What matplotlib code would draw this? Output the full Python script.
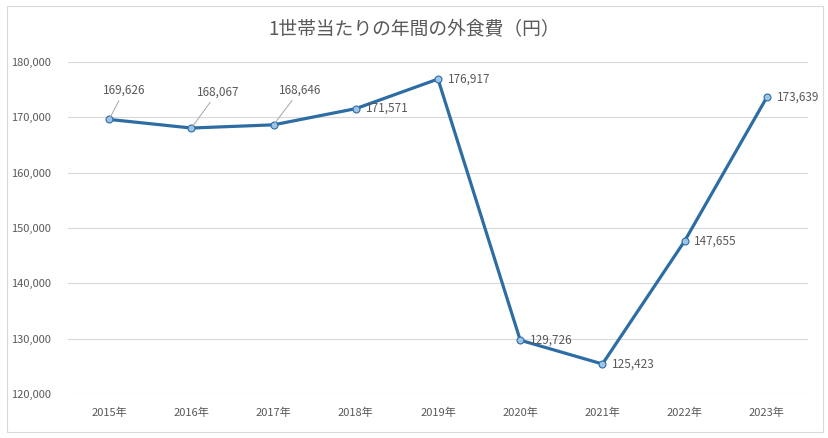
import matplotlib
matplotlib.use("Agg")
import matplotlib.pyplot as plt
from matplotlib.patches import Rectangle

plt.rcParams['font.family'] = ['Noto Sans CJK JP', 'DejaVu Sans']

years = ["2015年", "2016年", "2017年", "2018年", "2019年", "2020年", "2021年", "2022年", "2023年"]
spending = [169626, 168067, 168646, 171571, 176917, 129726, 125423, 147655, 173639]
# label offsets in points (dx, dy) and whether a leader line is drawn
label_offsets = [(11, 21), (19, 26), (19, 25), (7, 0), (7, 0), (7, 0), (7, 0), (7, 0), (7, 0)]
leaders = [True, True, True, False, False, False, False, False, False]

text_gray = "#595959"
line_blue = "#2E6DA4"

fig = plt.figure(figsize=(8.29, 4.38), dpi=100)
fig.patches.append(Rectangle((7 / 829, 6 / 438), 816 / 829, 426 / 438, transform=fig.transFigure,
                             fill=False, edgecolor="#D9D9D9", linewidth=0.8))
ax = fig.add_axes([68 / 829, 44 / 438, 740 / 829, 332 / 438])

x = list(range(len(years)))
ax.plot(x, spending, color=line_blue, linewidth=2.3, marker="o", markersize=5,
        markerfacecolor="#9DC3E6", markeredgecolor=line_blue, markeredgewidth=0.8, zorder=3)

for i, v in enumerate(spending):
    dx, dy = label_offsets[i]
    if leaders[i]:
        ax.annotate(f"{v:,}", xy=(i, v), xytext=(dx, dy), textcoords="offset points",
                    ha="center", va="center", fontsize=8.5, color=text_gray,
                    arrowprops=dict(arrowstyle="-", color="#A6A6A6", linewidth=0.7,
                                    shrinkA=1, shrinkB=2))
    else:
        ax.annotate(f"{v:,}", xy=(i, v), xytext=(dx, dy), textcoords="offset points",
                    ha="left", va="center", fontsize=8.5, color=text_gray)

ax.set_xlim(-0.5, len(years) - 0.5)
ax.set_ylim(120000, 180000)
ax.set_yticks(range(120000, 180001, 10000))
ax.set_yticklabels([f"{t:,}" for t in range(120000, 180001, 10000)])
ax.set_xticks(x)
ax.set_xticklabels(years)
ax.tick_params(axis="both", length=0, labelsize=8, labelcolor=text_gray)
ax.tick_params(axis="x", pad=10)
ax.tick_params(axis="y", pad=12)
ax.grid(axis="y", color="#D9D9D9", linewidth=0.8)
ax.set_axisbelow(True)
for s in ax.spines.values():
    s.set_visible(False)

fig.text(0.5, 1 - 30 / 438, "1世帯当たりの年間の外食費（円）", ha="center", va="center",
         fontsize=13.5, color=text_gray)

fig.savefig("out.png", dpi=100)
